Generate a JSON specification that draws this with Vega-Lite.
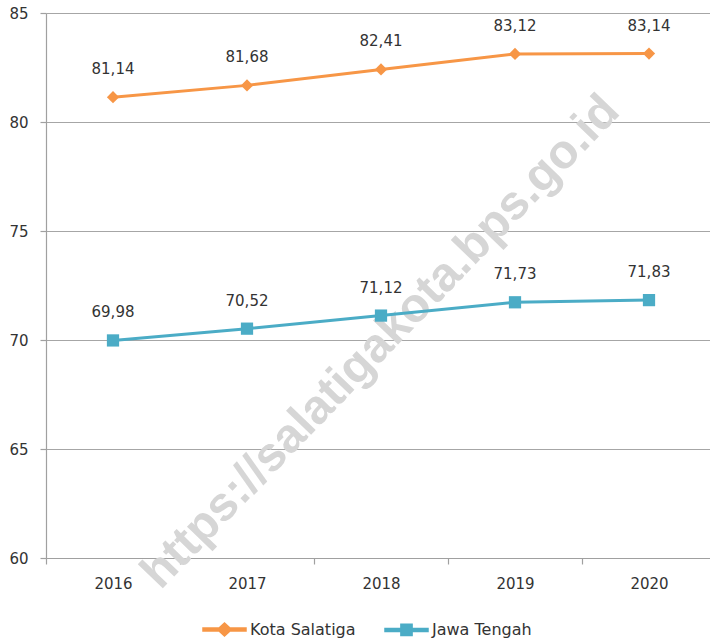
{
  "$schema": "https://vega.github.io/schema/vega-lite/v6.json",
  "width": 664,
  "height": 545,
  "autosize": {"type": "none"},
  "padding": {"left": 46, "top": 13, "right": 0, "bottom": 84},
  "background": "white",
  "config": {
    "locale": {"number": {"decimal": ",", "thousands": ".", "grouping": [3], "currency": ["", ""]}},
    "view": {"stroke": null},
    "font": "DejaVu Sans",
    "axis": {
      "labelFont": "DejaVu Sans",
      "labelFontSize": 15,
      "labelColor": "#333333",
      "domainColor": "#a0a0a0",
      "tickColor": "#a0a0a0",
      "gridColor": "#a6a6a6",
      "domainWidth": 1.2,
      "tickWidth": 1.2,
      "gridWidth": 1.2
    },
    "legend": {
      "orient": "none",
      "legendX": 156,
      "legendY": 594,
      "direction": "horizontal",
      "title": null,
      "symbolSize": 1849,
      "labelFont": "DejaVu Sans",
      "labelFontSize": 16,
      "labelColor": "#333333",
      "labelOffset": 3,
      "columnPadding": 26
    }
  },
  "datasets": {
    "ipm": [
      {"series": "Kota Salatiga", "year": "2016", "value": 81.14},
      {"series": "Kota Salatiga", "year": "2017", "value": 81.68},
      {"series": "Kota Salatiga", "year": "2018", "value": 82.41},
      {"series": "Kota Salatiga", "year": "2019", "value": 83.12},
      {"series": "Kota Salatiga", "year": "2020", "value": 83.14},
      {"series": "Jawa Tengah", "year": "2016", "value": 69.98},
      {"series": "Jawa Tengah", "year": "2017", "value": 70.52},
      {"series": "Jawa Tengah", "year": "2018", "value": 71.12},
      {"series": "Jawa Tengah", "year": "2019", "value": 71.73},
      {"series": "Jawa Tengah", "year": "2020", "value": 71.83}
    ],
    "mark": [
      {"year": "2018", "value": 69.9, "text": "https://salatigakota.bps.go.id"}
    ]
  },
  "data": {"name": "ipm"},
  "encoding": {
    "x": {
      "field": "year",
      "type": "ordinal",
      "bandPosition": 0.5,
      "scale": {"type": "band", "range": [0, 670], "paddingInner": 0, "paddingOuter": 0},
      "axis": {"title": null, "labelAngle": 0, "tickBand": "extent", "tickSize": 6, "labelPadding": 12, "grid": false}
    },
    "y": {
      "field": "value",
      "type": "quantitative",
      "scale": {"domain": [60, 85], "nice": false, "zero": false},
      "axis": {"title": null, "values": [60, 65, 70, 75, 80, 85], "tickSize": 6, "labelPadding": 12, "grid": true}
    }
  },
  "layer": [
    {
      "data": {"name": "mark"},
      "mark": {"type": "text", "font": "Liberation Sans", "fontWeight": "bold", "fontSize": 48, "angle": -46, "align": "center", "baseline": "middle", "color": "#d6d6d6"},
      "encoding": {"text": {"field": "text"}}
    },
    {
      "mark": {"type": "line", "strokeWidth": 3},
      "encoding": {
        "color": {"field": "series", "type": "nominal", "sort": ["Kota Salatiga", "Jawa Tengah"], "scale": {"domain": ["Kota Salatiga", "Jawa Tengah"], "range": ["#F79646", "#4BACC6"]}}
      }
    },
    {
      "mark": {"type": "point", "filled": true, "opacity": 0, "size": 1849},
      "encoding": {
        "color": {"field": "series", "type": "nominal", "sort": ["Kota Salatiga", "Jawa Tengah"]},
        "shape": {"field": "series", "type": "nominal", "sort": ["Kota Salatiga", "Jawa Tengah"], "scale": {"domain": ["Kota Salatiga", "Jawa Tengah"], "range": ["M-1,-0.07H-0.256L0,-0.3L0.256,-0.07H1V0.07H0.256L0,0.3L-0.256,0.07H-1Z", "M-1,-0.07H-0.26V-0.26H0.26V-0.07H1V0.07H0.26V0.26H-0.26V0.07H-1Z"]}}
      }
    },
    {
      "mark": {"type": "point", "filled": true, "opacity": 1, "size": 150},
      "encoding": {
        "color": {"field": "series", "type": "nominal", "sort": ["Kota Salatiga", "Jawa Tengah"]},
        "shape": {"condition": {"test": "datum.series === 'Kota Salatiga'", "value": "diamond"}, "value": "square"}
      }
    },
    {
      "mark": {"type": "text", "dy": -28, "baseline": "middle", "align": "center", "fontSize": 15, "font": "DejaVu Sans", "color": "#333333"},
      "encoding": {"text": {"field": "value", "type": "quantitative", "format": ".2f"}}
    }
  ]
}
